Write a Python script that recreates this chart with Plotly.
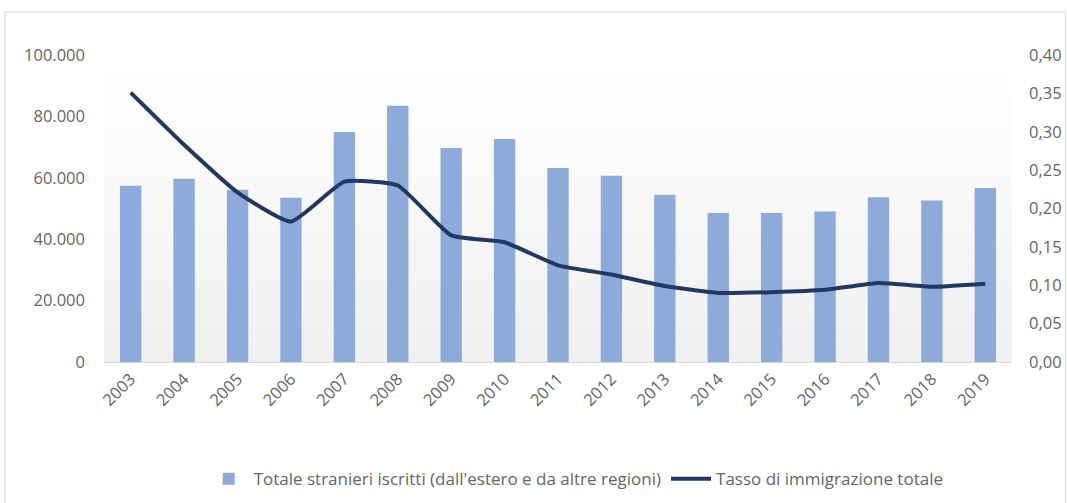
import plotly.graph_objects as go

anni = ["2003", "2004", "2005", "2006", "2007", "2008", "2009", "2010", "2011",
        "2012", "2013", "2014", "2015", "2016", "2017", "2018", "2019"]
stranieri_iscritti = [57400, 59700, 56100, 53500, 74900, 83500, 69700, 72600, 63200,
                      60700, 54500, 48500, 48500, 49000, 53700, 52600, 56700]
tasso_immigrazione = [0.351, 0.283, 0.221, 0.183, 0.235, 0.230, 0.165, 0.156, 0.126,
                      0.114, 0.099, 0.090, 0.091, 0.094, 0.103, 0.098, 0.102]

nome_barre = "Totale stranieri iscritti (dall'estero e da altre regioni)"
nome_linea = "Tasso di immigrazione totale"

FONT = "Open Sans"
GRIGIO = "#666666"
FS = 16.5

fig = go.Figure()
fig.add_trace(go.Bar(x=anni, y=stranieri_iscritti, name=nome_barre,
                     marker=dict(color="#8EAADB", line=dict(width=0)), yaxis="y"))
fig.add_trace(go.Scatter(x=anni, y=tasso_immigrazione, name=nome_linea, mode="lines",
                         line=dict(color="#1F3864", width=4, shape="spline", smoothing=0.45),
                         yaxis="y2"))

# background gradient (white at top -> light grey at bottom)
shapes = []
n = 24
for i in range(n):
    t = i / (n - 1)
    g = int(round(255 - 15 * (1 - t)))
    shapes.append(dict(type="rect", xref="x domain", yref="y domain",
                       x0=0, x1=1, y0=i / n, y1=(i + 1) / n,
                       fillcolor=f"rgb({g},{g},{g})", line=dict(width=0), layer="below"))
# outer border
shapes.append(dict(type="rect", xref="paper", yref="paper",
                   x0=-0.109, x1=1.059, y0=-0.5, y1=1.14,
                   line=dict(color="#D9D9D9", width=1), fillcolor="rgba(0,0,0,0)", layer="below"))

fig.update_layout(
    width=1067, height=503,
    margin=dict(l=104, r=55, t=55, b=140.5, autoexpand=False),
    paper_bgcolor="white", plot_bgcolor="white",
    separators=",.",
    font=dict(family=FONT, size=FS, color=GRIGIO),
    bargap=0.6,
    showlegend=True,
    legend=dict(orientation="h", x=0.52, xanchor="center", y=-0.382, yanchor="middle",
                font=dict(family=FONT, size=17, color=GRIGIO), traceorder="normal",
                itemwidth=40),
    xaxis=dict(type="category", tickangle=-45, showgrid=False, showline=True,
               linecolor="#D9D9D9", linewidth=1, ticks="", automargin=False,
               tickfont=dict(size=FS, color=GRIGIO)),
    yaxis=dict(range=[0, 100000], dtick=20000, tickformat=",d", showgrid=False,
               zeroline=False, showline=False, ticks="", ticklabelstandoff=18,
               automargin=False, tickfont=dict(size=FS, color=GRIGIO)),
    yaxis2=dict(range=[0, 0.4], dtick=0.05, tickformat=".2f", overlaying="y", side="right",
                showgrid=False, zeroline=False, showline=False, ticks="", ticklabelstandoff=16,
                automargin=False, tickfont=dict(size=FS, color=GRIGIO)),
    shapes=shapes,
)

fig.write_html("out.html", config={"displayModeBar": False},
               post_script="document.body.style.margin='0';")
